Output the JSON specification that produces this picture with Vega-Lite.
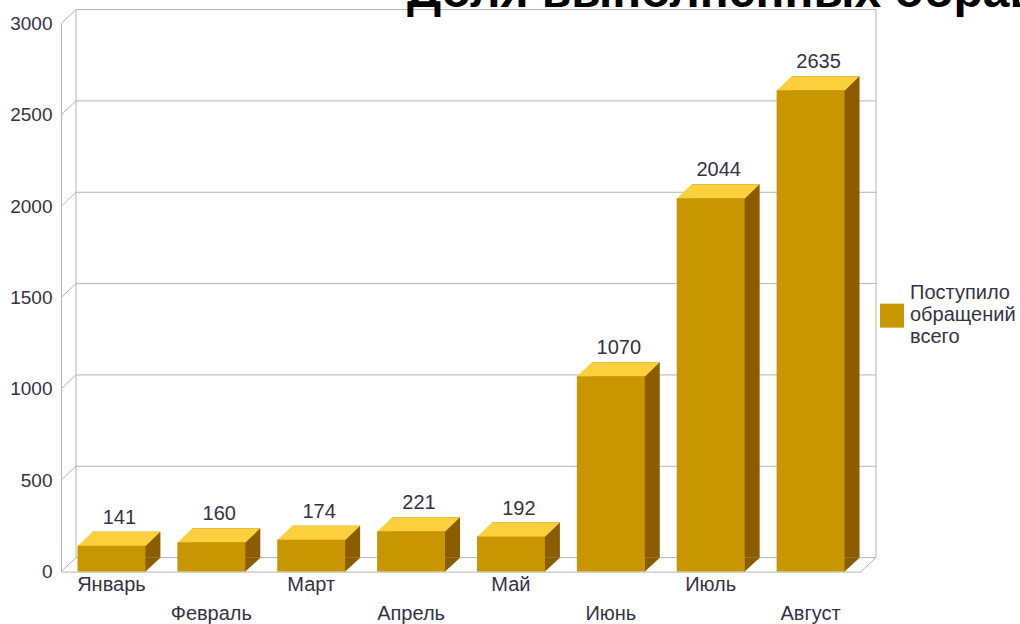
{
  "$schema": "https://vega.github.io/schema/vega-lite/v6.json",
  "autosize": {"type": "none"},
  "width": 800,
  "height": 548,
  "padding": {"left": 61, "top": 23.6, "right": 159, "bottom": 52.4},
  "background": "white",
  "title": {
    "text": "Доля выполненных обращений",
    "anchor": "start",
    "frame": "group",
    "dx": 346,
    "offset": -46,
    "baseline": "alphabetic",
    "font": "Liberation Sans",
    "fontSize": 48,
    "fontWeight": "bold",
    "color": "#000000"
  },
  "datasets": {
    "bars": [
      {"month": "Январь", "value": 141, "series": "Поступило обращений всего"},
      {"month": "Февраль", "value": 160, "series": "Поступило обращений всего"},
      {"month": "Март", "value": 174, "series": "Поступило обращений всего"},
      {"month": "Апрель", "value": 221, "series": "Поступило обращений всего"},
      {"month": "Май", "value": 192, "series": "Поступило обращений всего"},
      {"month": "Июнь", "value": 1070, "series": "Поступило обращений всего"},
      {"month": "Июль", "value": 2044, "series": "Поступило обращений всего"},
      {"month": "Август", "value": 2635, "series": "Поступило обращений всего"}
    ],
    "ticks": [
      {"v": 0}, {"v": 500}, {"v": 1000}, {"v": 1500}, {"v": 2000}, {"v": 2500}, {"v": 3000}
    ]
  },
  "config": {
    "view": {"stroke": null},
    "font": "Liberation Sans"
  },
  "layer": [
    {
      "data": {"name": "ticks"},
      "mark": {"type": "rule", "color": "#b4b4b4", "strokeWidth": 1, "yOffset": -14, "y2Offset": -14},
      "encoding": {
        "y": {"field": "v", "type": "quantitative", "scale": {"domain": [0, 3000], "nice": false, "zero": true},
          "axis": {"title": null, "values": [0, 500, 1000, 1500, 2000, 2500, 3000], "format": "d", "grid": false, "ticks": false,
            "domainColor": "#b4b4b4", "labelFontSize": 19, "labelColor": "#333344", "labelPadding": 9, "labelFont": "Liberation Sans"}},
        "x": {"value": 15},
        "x2": {"value": 815}
      }
    },
    {
      "data": {"name": "ticks"},
      "mark": {"type": "rule", "color": "#b4b4b4", "strokeWidth": 1, "y2Offset": -14},
      "encoding": {
        "y": {"field": "v", "type": "quantitative"},
        "y2": {"field": "v"},
        "x": {"value": 0},
        "x2": {"value": 15}
      }
    },
    {
      "data": {"values": [{"a": 0, "b": 3000}]},
      "mark": {"type": "rule", "color": "#b4b4b4", "strokeWidth": 1, "yOffset": -14, "y2Offset": -14},
      "encoding": {
        "y": {"field": "a", "type": "quantitative"},
        "y2": {"field": "b"},
        "x": {"value": 15}
      }
    },
    {
      "data": {"values": [{"a": 0, "b": 3000}]},
      "mark": {"type": "rule", "color": "#b4b4b4", "strokeWidth": 1, "yOffset": -14, "y2Offset": -14},
      "encoding": {
        "y": {"field": "a", "type": "quantitative"},
        "y2": {"field": "b"},
        "x": {"value": 815}
      }
    },
    {
      "data": {"values": [{"a": 0}]},
      "mark": {"type": "rule", "color": "#b4b4b4", "strokeWidth": 1, "y2Offset": -14},
      "encoding": {
        "y": {"field": "a", "type": "quantitative"},
        "y2": {"field": "a"},
        "x": {"value": 800},
        "x2": {"value": 815}
      }
    },
    {
      "data": {"name": "bars"},
      "mark": {"type": "bar", "color": "#8b5d00", "xOffset": 15, "yOffset": -14, "y2Offset": -14},
      "encoding": {
        "x": {"field": "month", "type": "nominal", "sort": null,
          "scale": {"paddingInner": 0.32, "paddingOuter": 0.165},
          "axis": {"title": null, "labelAngle": 0, "ticks": false, "domainColor": "#b4b4b4", "labelFontSize": 20,
            "labelColor": "#333344", "labelPadding": 3, "labelBaseline": "top", "labelFont": "Liberation Sans",
            "labelLineHeight": 29,
            "labelExpr": "indexof(['Февраль','Апрель','Июнь','Август'], datum.value) >= 0 ? ['', datum.value] : datum.value"}},
        "y": {"field": "value", "type": "quantitative"},
        "y2": {"datum": 0}
      }
    },
    {
      "data": {"name": "bars"},
      "mark": {"type": "point", "filled": true, "opacity": 1, "color": "#8b5d00", "size": 10000, "strokeWidth": 0,
        "shape": "M0.67,0.01 L0.67,-0.28 L0.985,-0.28 Z"},
      "encoding": {
        "x": {"field": "month", "type": "nominal", "sort": null},
        "y": {"datum": 0}
      }
    },
    {
      "data": {"name": "bars"},
      "mark": {"type": "point", "filled": true, "opacity": 1, "color": "#fcd03c", "size": 10000, "strokeWidth": 0,
        "shape": "M-0.679,0.01 L0.679,0.01 L0.979,-0.28 L-0.379,-0.28 Z"},
      "encoding": {
        "x": {"field": "month", "type": "nominal", "sort": null},
        "y": {"field": "value", "type": "quantitative"}
      }
    },
    {
      "data": {"name": "bars"},
      "mark": {"type": "bar"},
      "encoding": {
        "x": {"field": "month", "type": "nominal", "sort": null},
        "y": {"field": "value", "type": "quantitative"},
        "y2": {"datum": 0},
        "color": {"field": "series", "type": "nominal",
          "scale": {"range": ["#c89600"]},
          "legend": {"title": null, "orient": "none", "legendX": 819, "legendY": 257,
            "symbolType": "M-1,0.92 L1,0.92 L1,2.92 L-1,2.92 Z",
            "symbolSize": 576, "symbolStrokeWidth": 0, "labelFontSize": 20, "labelColor": "#333344", "labelLimit": 300,
            "labelOffset": 6, "labelFont": "Liberation Sans",
            "labelExpr": "['Поступило', 'обращений', 'всего']"}}
      }
    },
    {
      "data": {"name": "bars"},
      "mark": {"type": "text", "fontSize": 20, "color": "#333344", "dx": 8, "dy": -28, "baseline": "middle", "font": "Liberation Sans"},
      "encoding": {
        "x": {"field": "month", "type": "nominal", "sort": null},
        "y": {"field": "value", "type": "quantitative"},
        "text": {"field": "value", "type": "quantitative"}
      }
    }
  ]
}
